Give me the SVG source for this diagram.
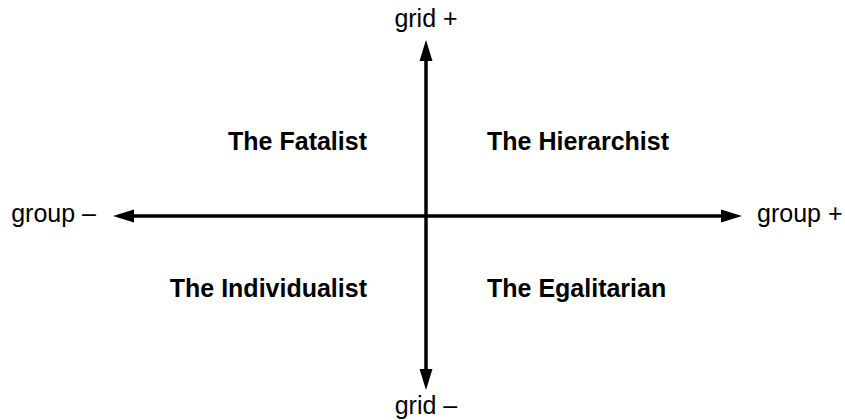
<svg xmlns="http://www.w3.org/2000/svg" width="845" height="420" viewBox="0 0 845 420">
  <style>
    .axis { stroke: #000; stroke-width: 3.5; fill: none; }
    .head { fill: #000; }
    .lbl { font-family: "Liberation Sans", Arial, sans-serif; font-size: 25px; fill: #000; }
    .q { font-family: "Liberation Sans", Arial, sans-serif; font-size: 25px; font-weight: bold; fill: #000; }
  </style>
  <rect width="845" height="420" fill="#fff"/>
  <g id="connectors">
    <line class="axis" x1="426" y1="58" x2="426" y2="372"/>
    <polygon class="head" points="426,40 419.5,61 432.5,61"/>
    <polygon class="head" points="426,390 419.5,369 432.5,369"/>
    <line class="axis" x1="131" y1="216" x2="724" y2="216"/>
    <polygon class="head" points="113,216 134,209.5 134,222.5"/>
    <polygon class="head" points="742,216 721,209.5 721,222.5"/>
  </g>
  <g id="grid-plus"><text class="lbl" x="426" y="27" text-anchor="middle">grid +</text></g>
  <g id="grid-minus"><text class="lbl" x="426" y="414" text-anchor="middle">grid –</text></g>
  <g id="group-minus"><text class="lbl" x="96" y="222" text-anchor="end">group –</text></g>
  <g id="group-plus"><text class="lbl" x="757" y="222">group +</text></g>
  <g id="fatalist"><text class="q" x="367" y="150" text-anchor="end">The Fatalist</text></g>
  <g id="hierarchist"><text class="q" x="487" y="150">The Hierarchist</text></g>
  <g id="individualist"><text class="q" x="367" y="297" text-anchor="end">The Individualist</text></g>
  <g id="egalitarian"><text class="q" x="487" y="297">The Egalitarian</text></g>
</svg>
